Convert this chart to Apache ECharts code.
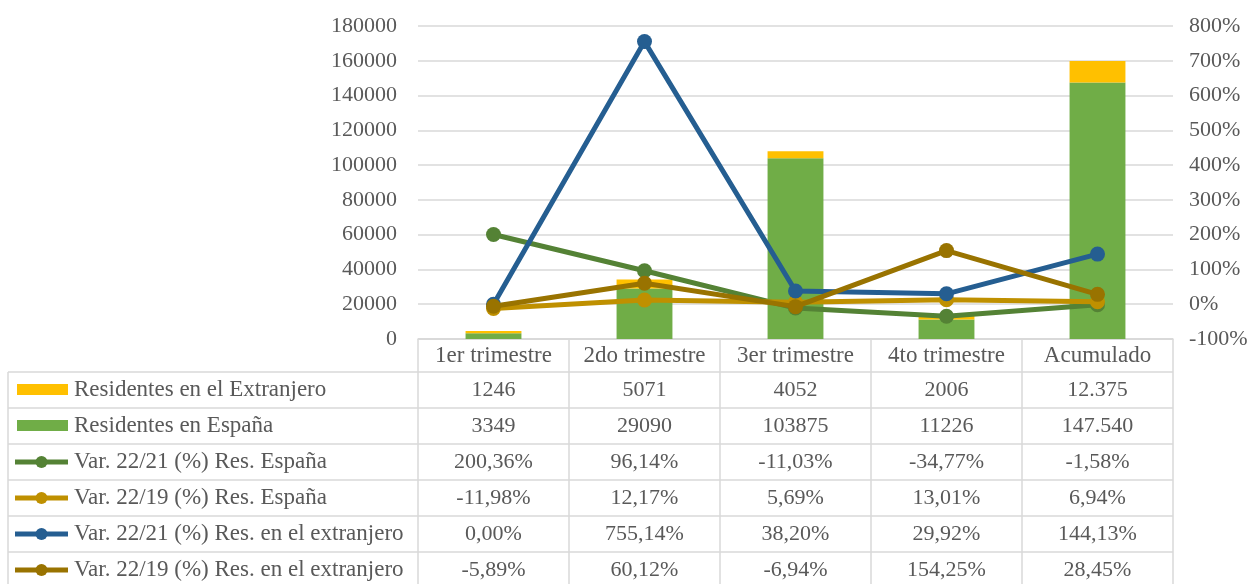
<!DOCTYPE html>
<html><head><meta charset="utf-8">
<script src="https://cdn.jsdelivr.net/npm/echarts@6/dist/echarts.min.js"></script>
<style>html,body{margin:0;padding:0;background:#fff}#c{width:1256px;height:584px}</style>
</head><body><div id="c"></div>
<script>
const categories = ['1er trimestre','2do trimestre','3er trimestre','4to trimestre','Acumulado'];
const resExtranjero = [1246, 5071, 4052, 2006, 12375];
const resEspana = [3349, 29090, 103875, 11226, 147540];
const var2221Esp = [200.36, 96.14, -11.03, -34.77, -1.58];
const var2219Esp = [-11.98, 12.17, 5.69, 13.01, 6.94];
const var2221Ext = [0.00, 755.14, 38.20, 29.92, 144.13];
const var2219Ext = [-5.89, 60.12, -6.94, 154.25, 28.45];
const seriesNames = ['Residentes en el Extranjero','Residentes en España','Var. 22/21 (%) Res. España','Var. 22/19 (%) Res. España','Var. 22/21 (%) Res. en el extranjero','Var. 22/19 (%) Res. en el extranjero'];

const FONT = 'Liberation Serif';
const FS = 22;
const FSW = 23;
const TXT = '#595959';
const GRIDC = '#D9D9D9';
const colors = ['#FFC000','#70AD47','#548235','#BF9000','#255E91','#997300'];

function fmtInt(v, i){ return i === 4 ? String(v).replace(/\B(?=(\d{3})+(?!\d))/g, '.') : String(v); }
function fmtPct(v){ return v.toFixed(2).replace('.', ',') + '%'; }

const chart = echarts.init(document.getElementById('c'), null, {renderer:'canvas'});
const G = {left:418, right:83, top:26, bottom:245};
const lineSeries = [var2221Esp, var2219Esp, var2221Ext, var2219Ext].map((d,k)=>({
  name: seriesNames[k+2], type:'line', yAxisIndex:1, data:d,
  symbol:'circle', symbolSize:15, z:3+k,
  lineStyle:{width:5, color:colors[k+2]}, itemStyle:{color:colors[k+2]}
}));
chart.setOption({
  animation:false,
  grid:G,
  xAxis:{type:'category', data:categories,
    axisLine:{show:true, lineStyle:{color:GRIDC, width:1.5}}, axisTick:{show:false},
    axisLabel:{color:TXT, fontFamily:FONT, fontSize:FSW, margin:5, interval:0, hideOverlap:false}},
  yAxis:[
    {type:'value', min:0, max:180000, interval:20000,
     axisLine:{show:false}, axisTick:{show:false},
     axisLabel:{color:TXT, fontFamily:FONT, fontSize:FS, margin:21, formatter:v=>String(v)},
     splitLine:{lineStyle:{color:GRIDC, width:1.5}}},
    {type:'value', min:-100, max:800, interval:100,
     axisLine:{show:false}, axisTick:{show:false},
     axisLabel:{color:TXT, fontFamily:FONT, fontSize:FS, margin:16, formatter:'{value}%'},
     splitLine:{show:false}}
  ],
  series:[
    {name:seriesNames[1], type:'bar', stack:'a', data:resEspana, barWidth:'37%', itemStyle:{color:colors[1]}, z:2},
    {name:seriesNames[0], type:'bar', stack:'a', data:resExtranjero, barWidth:'37%', itemStyle:{color:colors[0]}, z:2}
  ].concat(lineSeries)
});

// data table below the chart
const bw = chart.convertToPixel({xAxisIndex:0}, 1) - chart.convertToPixel({xAxisIndex:0}, 0);
const colEdges = [];
for (let i=0;i<=categories.length;i++) colEdges.push(chart.convertToPixel({xAxisIndex:0}, 0) - bw/2 + i*bw);
const axisY = chart.convertToPixel({yAxisIndex:0}, 0);
const headBottom = 372, rowH = 36, tableLeft = 8, tableBottom = 600;
const g = [];
const ls = {stroke:GRIDC, lineWidth:1.5};
g.push({type:'line', shape:{x1:colEdges[0], y1:axisY, x2:colEdges[colEdges.length-1], y2:axisY}, style:ls});
for (let r=0;r<=6;r++){
  const y = headBottom + r*rowH;
  g.push({type:'line', shape:{x1:tableLeft, y1:y, x2:colEdges[colEdges.length-1], y2:y}, style:ls});
}
g.push({type:'line', shape:{x1:tableLeft, y1:headBottom, x2:tableLeft, y2:tableBottom}, style:ls});
colEdges.forEach(x=>g.push({type:'line', shape:{x1:x, y1:axisY, x2:x, y2:tableBottom}, style:ls}));

const rows = [
  {name:seriesNames[0], vals:resExtranjero.map(fmtInt), color:colors[0], kind:'bar'},
  {name:seriesNames[1], vals:resEspana.map(fmtInt), color:colors[1], kind:'bar'},
  {name:seriesNames[2], vals:var2221Esp.map(fmtPct), color:colors[2], kind:'line'},
  {name:seriesNames[3], vals:var2219Esp.map(fmtPct), color:colors[3], kind:'line'},
  {name:seriesNames[4], vals:var2221Ext.map(fmtPct), color:colors[4], kind:'line'},
  {name:seriesNames[5], vals:var2219Ext.map(fmtPct), color:colors[5], kind:'line'}
];
rows.forEach((row, r)=>{
  const cy = headBottom + r*rowH + rowH/2;
  if (row.kind === 'bar') {
    g.push({type:'rect', shape:{x:17, y:cy-6, width:51, height:11}, style:{fill:row.color}});
  } else {
    g.push({type:'line', shape:{x1:15, y1:cy, x2:68, y2:cy}, style:{stroke:row.color, lineWidth:5}});
    g.push({type:'circle', shape:{cx:41.5, cy:cy, r:6}, style:{fill:row.color}});
  }
  g.push({type:'text', x:74, y:cy, style:{text:row.name, fill:TXT, font:FSW+'px "'+FONT+'"', textVerticalAlign:'middle', verticalAlign:'middle'}});
  row.vals.forEach((v,i)=>{
    g.push({type:'text', x:(colEdges[i]+colEdges[i+1])/2, y:cy, style:{text:v, fill:TXT, font:FS+'px "'+FONT+'"', textAlign:'center', align:'center', textVerticalAlign:'middle', verticalAlign:'middle'}});
  });
});
chart.setOption({graphic:{elements:g}});
</script>
</body></html>
